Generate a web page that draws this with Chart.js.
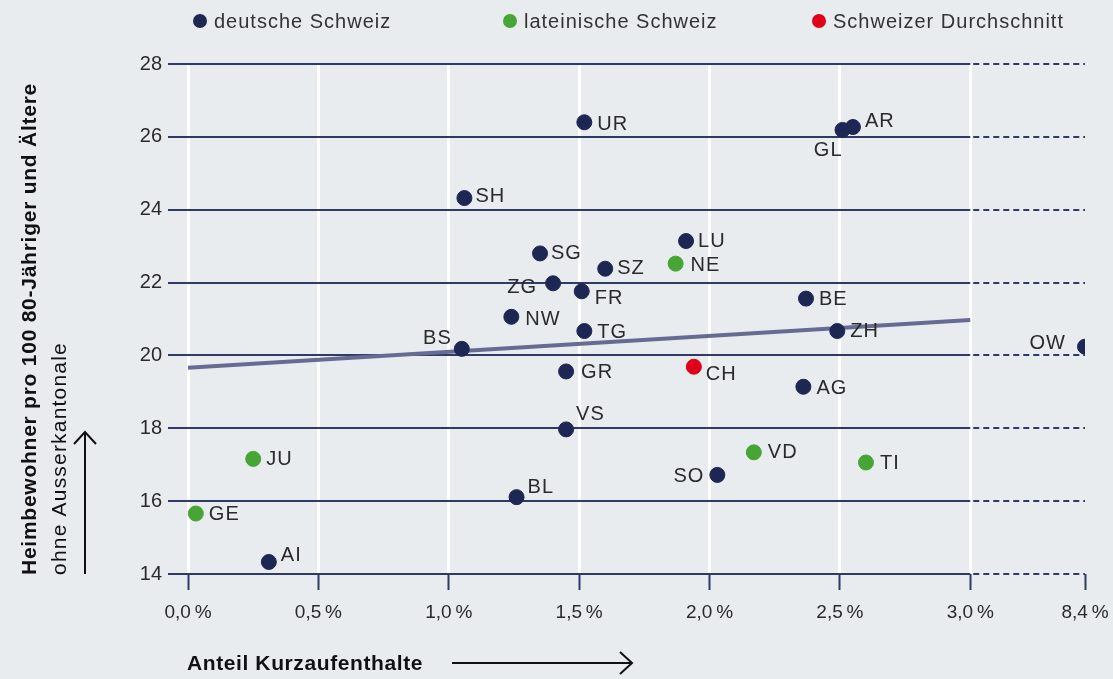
<!DOCTYPE html>
<html>
<head>
<meta charset="utf-8">
<script src="https://cdn.jsdelivr.net/npm/chart.js@4"></script>
<style>
  html, body { margin: 0; padding: 0; background: #e8ecee; }
  #wrap { position: relative; width: 1113px; height: 679px; background: #e8ecee; }
</style>
</head>
<body>
<div id="wrap"><canvas id="c"></canvas></div>
<script>
// ---- Data ----
const germanCodes = ['UR','GL','AR','SH','SG','LU','SZ','ZG','FR','BE','NW','TG','ZH','BS','OW','GR','AG','VS','SO','BL','AI'];
const germanShortStay = [1.52, 2.51, 2.55, 1.06, 1.35, 1.91, 1.60, 1.40, 1.51, 2.37, 1.24, 1.52, 2.49, 1.05, 8.4, 1.45, 2.36, 1.45, 2.03, 1.26, 0.31];
const germanResidents = [26.40, 26.19, 26.27, 24.32, 22.80, 23.14, 22.38, 21.98, 21.76, 21.56, 21.06, 20.67, 20.67, 20.18, 20.24, 19.56, 19.14, 17.97, 16.72, 16.11, 14.33];

const latinCodes = ['NE','JU','GE','VD','TI'];
const latinShortStay = [1.87, 0.25, 0.03, 2.17, 2.60];
const latinResidents = [22.52, 17.16, 15.66, 17.34, 17.06];

const swissCodes = ['CH'];
const swissShortStay = [1.94];
const swissResidents = [19.69];

const trendShortStay = [0, 3.0];
const trendResidents = [19.66, 20.97];

const xTickValues = [0, 0.5, 1.0, 1.5, 2.0, 2.5, 3.0];
const xOutlierTick = 8.4;
const yTickValues = [14, 16, 18, 20, 22, 24, 26, 28];

const legendLabels = ['deutsche Schweiz', 'lateinische Schweiz', 'Schweizer Durchschnitt'];
const yTitleBold = 'Heimbewohner pro 100 80-Jähriger und Ältere';
const yTitleRegular = 'ohne Ausserkantonale';
const xTitle = 'Anteil Kurzaufenthalte';

// ---- Axis break: values above xBreakAt are drawn at xBreakPos ----
const xBreakAt = 3.0;
const xBreakPos = 3.44;
const axisX = v => (v > xBreakAt ? xBreakPos : v);

// ---- Styles ----
const NAVY = '#1e2753';
const GREEN = '#47a535';
const RED = '#e1001a';
const GRID = '#2f3a66';
const TREND = '#676b94';
const TEXT = '#2a2a2a';
const FONT = '"Liberation Sans", Arial, sans-serif';

// label placement per code: [dx, dy, align]
const labelOffsets = {
  UR:[13,2,'left'], GL:[0,21,'right'], AR:[12,-6,'left'], SH:[11,-2,'left'], SG:[11,0,'left'],
  LU:[12,0,'left'], SZ:[12,0,'left'], NE:[15,2,'left'], ZG:[-16,4,'right'], FR:[13,7,'left'],
  BE:[13,1,'left'], NW:[14,3,'left'], TG:[13,1,'left'], ZH:[13,0,'left'], BS:[-10,-10,'right'],
  OW:[-19,-3,'right'], GR:[15,1,'left'], CH:[12,8,'left'], AG:[13,2,'left'], VS:[10,-15,'left'],
  VD:[14,0,'left'], TI:[14,1,'left'], JU:[13,1,'left'], SO:[-13,2,'right'], BL:[11,-10,'left'],
  GE:[13,1,'left'], AI:[12,-6,'left']
};

const toPoints = (xs, ys) => xs.map((x, i) => ({ x: axisX(x), y: ys[i] }));

const datasets = [
  { label: legendLabels[0], codes: germanCodes, data: toPoints(germanShortStay, germanResidents),
    backgroundColor: NAVY, borderColor: NAVY, pointRadius: 7.5, pointHoverRadius: 7.5, order: 0 },
  { label: legendLabels[1], codes: latinCodes, data: toPoints(latinShortStay, latinResidents),
    backgroundColor: GREEN, borderColor: GREEN, pointRadius: 7.5, pointHoverRadius: 7.5, order: 0 },
  { label: legendLabels[2], codes: swissCodes, data: toPoints(swissShortStay, swissResidents),
    backgroundColor: RED, borderColor: RED, pointRadius: 7.5, pointHoverRadius: 7.5, order: 0 },
  { label: 'Trend', data: toPoints(trendShortStay, trendResidents), showLine: true,
    borderColor: TREND, borderWidth: 4, pointRadius: 0, pointHoverRadius: 0, fill: false, order: 5 }
];

// ---- Plugins ----
const bgPlugin = {
  id: 'bg',
  beforeDraw(chart) {
    const ctx = chart.ctx;
    ctx.save();
    ctx.fillStyle = '#e8ecee';
    ctx.fillRect(0, 0, chart.width, chart.height);
    ctx.restore();
  }
};

const hGridPlugin = {
  id: 'hgrid',
  beforeDatasetsDraw(chart) {
    const { ctx, chartArea, scales } = chart;
    const xb = scales.x.getPixelForValue(xBreakAt);
    ctx.save();
    ctx.strokeStyle = GRID;
    ctx.lineWidth = 2;
    yTickValues.forEach(v => {
      const y = Math.round(scales.y.getPixelForValue(v));
      ctx.setLineDash([]);
      ctx.beginPath(); ctx.moveTo(chartArea.left, y); ctx.lineTo(xb, y); ctx.stroke();
      ctx.setLineDash([6, 4]);
      ctx.beginPath(); ctx.moveTo(xb + 3, y); ctx.lineTo(chartArea.right, y); ctx.stroke();
    });
    ctx.restore();
  }
};

const labelPlugin = {
  id: 'pointLabels',
  afterDatasetsDraw(chart) {
    const ctx = chart.ctx;
    ctx.save();
    ctx.font = '20px ' + FONT;
    ctx.letterSpacing = '1px';
    ctx.fillStyle = TEXT;
    ctx.textBaseline = 'middle';
    chart.data.datasets.forEach((ds, di) => {
      if (!ds.codes) return;
      const meta = chart.getDatasetMeta(di);
      meta.data.forEach((el, i) => {
        const code = ds.codes[i];
        const off = labelOffsets[code] || [12, 0, 'left'];
        ctx.textAlign = off[2];
        ctx.fillText(code, el.x + off[0], el.y + off[1]);
      });
    });
    ctx.restore();
  }
};

const decorPlugin = {
  id: 'decor',
  afterDraw(chart) {
    const ctx = chart.ctx;
    const colors = [NAVY, GREEN, RED];
    const lx = [200, 510, 819];
    ctx.save();
    // legend
    ctx.textBaseline = 'middle';
    ctx.textAlign = 'left';
    ctx.font = '20px ' + FONT;
    ctx.letterSpacing = '1px';
    legendLabels.forEach((t, i) => {
      ctx.fillStyle = colors[i];
      ctx.beginPath(); ctx.arc(lx[i], 21, 7, 0, Math.PI * 2); ctx.fill();
      ctx.fillStyle = '#333';
      ctx.fillText(t, lx[i] + 14, 22);
    });

    // x title + arrow
    ctx.fillStyle = '#111';
    ctx.strokeStyle = '#111';
    ctx.font = 'bold 21px ' + FONT;
    ctx.letterSpacing = '0.6px';
    ctx.textAlign = 'left';
    ctx.fillText(xTitle, 187, 664);
    ctx.lineWidth = 2;
    ctx.beginPath(); ctx.moveTo(452, 663); ctx.lineTo(631, 663); ctx.stroke();
    ctx.beginPath(); ctx.moveTo(620, 652); ctx.lineTo(632, 663); ctx.lineTo(620, 674); ctx.stroke();

    // y title + arrow
    ctx.save();
    ctx.translate(30, 575);
    ctx.rotate(-Math.PI / 2);
    ctx.font = 'bold 21px ' + FONT;
    ctx.letterSpacing = '0.75px';
    ctx.textAlign = 'left';
    ctx.fillText(yTitleBold, 0, 0);
    ctx.restore();
    ctx.save();
    ctx.translate(60, 575);
    ctx.rotate(-Math.PI / 2);
    ctx.font = '21px ' + FONT;
    ctx.letterSpacing = '1.2px';
    ctx.textAlign = 'left';
    ctx.fillText(yTitleRegular, 0, 0);
    ctx.restore();
    ctx.beginPath(); ctx.moveTo(85, 574); ctx.lineTo(85, 433); ctx.stroke();
    ctx.beginPath(); ctx.moveTo(74, 444); ctx.lineTo(85, 432); ctx.lineTo(96, 444); ctx.stroke();
    ctx.restore();
  }
};

const fmtPct = v => (v === xBreakPos ? xOutlierTick : v).toFixed(1).replace('.', ',') + '\u2009%';

new Chart(document.getElementById('c'), {
  type: 'scatter',
  data: { datasets },
  options: {
    responsive: true,
    maintainAspectRatio: false,
    animation: false,
    layout: { padding: { top: 64, right: 28, left: 0, bottom: 0 } },
    plugins: { legend: { display: false }, tooltip: { enabled: false } },
    scales: {
      x: {
        type: 'linear',
        min: -20 / 260.6,
        max: xBreakPos,
        afterBuildTicks: s => { s.ticks = xTickValues.concat([xBreakPos]).map(v => ({ value: v })); },
        afterFit: s => { s.height = 105; s.paddingLeft = 0; s.paddingRight = 0; },
        border: { display: false },
        grid: {
          color: c => (c.tick && c.tick.value === xBreakPos ? 'rgba(0,0,0,0)' : '#ffffff'),
          lineWidth: 3,
          tickColor: GRID,
          tickWidth: 2,
          tickLength: 16,
          drawOnChartArea: true
        },
        ticks: {
          autoSkip: false,
          maxRotation: 0,
          padding: 11,
          color: TEXT,
          font: { family: FONT, size: 19 },
          callback: v => fmtPct(v)
        }
      },
      y: {
        min: 14, max: 28,
        afterBuildTicks: s => { s.ticks = yTickValues.map(v => ({ value: v })); },
        afterFit: s => { s.width = 168; s.paddingTop = 0; s.paddingBottom = 0; },
        border: { display: false },
        grid: { display: false, drawTicks: false },
        ticks: { padding: 6, color: TEXT, font: { family: FONT, size: 20 } }
      }
    }
  },
  plugins: [bgPlugin, hGridPlugin, labelPlugin, decorPlugin]
});
</script>
</body>
</html>
